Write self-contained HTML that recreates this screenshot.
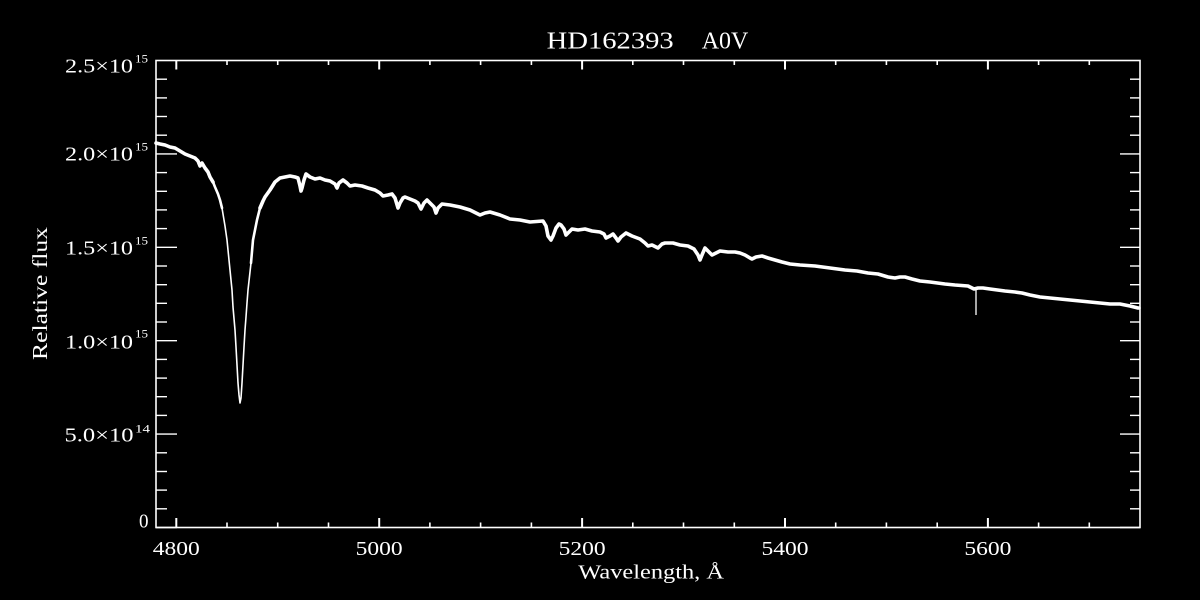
<!DOCTYPE html>
<html>
<head>
<meta charset="utf-8">
<style>
  html,body{margin:0;padding:0;background:#000;}
  body{width:1200px;height:600px;overflow:hidden;}
  svg{display:block;}
  text{fill:#fff;font-family:"Liberation Serif",serif;}
</style>
</head>
<body>
<svg width="1200" height="600" viewBox="0 0 1200 600" xmlns="http://www.w3.org/2000/svg">
  <rect x="0" y="0" width="1200" height="600" fill="#000"/>

  <!-- Title -->
  <text x="546.7" y="48.3" font-size="24" textLength="127" lengthAdjust="spacingAndGlyphs">HD162393</text>
  <text x="701.7" y="48.3" font-size="24" textLength="46.6" lengthAdjust="spacingAndGlyphs">A0V</text>

  <!-- Plot frame -->
  <rect x="156" y="60.5" width="984" height="467" fill="none" stroke="#fff" stroke-width="1.6"/>

  <!-- Y ticks (left & right) -->
  <g stroke="#fff" stroke-width="1.4">
    <line x1="156" y1="527.5" x2="177" y2="527.5"/><line x1="1140" y1="527.5" x2="1120" y2="527.5"/>
    <line x1="156" y1="434.1" x2="177" y2="434.1"/><line x1="1140" y1="434.1" x2="1120" y2="434.1"/>
    <line x1="156" y1="340.7" x2="177" y2="340.7"/><line x1="1140" y1="340.7" x2="1120" y2="340.7"/>
    <line x1="156" y1="247.3" x2="177" y2="247.3"/><line x1="1140" y1="247.3" x2="1120" y2="247.3"/>
    <line x1="156" y1="153.9" x2="177" y2="153.9"/><line x1="1140" y1="153.9" x2="1120" y2="153.9"/>
    <line x1="156" y1="508.8" x2="167" y2="508.8"/><line x1="1140" y1="508.8" x2="1130" y2="508.8"/>
    <line x1="156" y1="490.1" x2="167" y2="490.1"/><line x1="1140" y1="490.1" x2="1130" y2="490.1"/>
    <line x1="156" y1="471.5" x2="167" y2="471.5"/><line x1="1140" y1="471.5" x2="1130" y2="471.5"/>
    <line x1="156" y1="452.8" x2="167" y2="452.8"/><line x1="1140" y1="452.8" x2="1130" y2="452.8"/>
    <line x1="156" y1="415.4" x2="167" y2="415.4"/><line x1="1140" y1="415.4" x2="1130" y2="415.4"/>
    <line x1="156" y1="396.7" x2="167" y2="396.7"/><line x1="1140" y1="396.7" x2="1130" y2="396.7"/>
    <line x1="156" y1="378.1" x2="167" y2="378.1"/><line x1="1140" y1="378.1" x2="1130" y2="378.1"/>
    <line x1="156" y1="359.4" x2="167" y2="359.4"/><line x1="1140" y1="359.4" x2="1130" y2="359.4"/>
    <line x1="156" y1="322.0" x2="167" y2="322.0"/><line x1="1140" y1="322.0" x2="1130" y2="322.0"/>
    <line x1="156" y1="303.3" x2="167" y2="303.3"/><line x1="1140" y1="303.3" x2="1130" y2="303.3"/>
    <line x1="156" y1="284.7" x2="167" y2="284.7"/><line x1="1140" y1="284.7" x2="1130" y2="284.7"/>
    <line x1="156" y1="266.0" x2="167" y2="266.0"/><line x1="1140" y1="266.0" x2="1130" y2="266.0"/>
    <line x1="156" y1="228.6" x2="167" y2="228.6"/><line x1="1140" y1="228.6" x2="1130" y2="228.6"/>
    <line x1="156" y1="209.9" x2="167" y2="209.9"/><line x1="1140" y1="209.9" x2="1130" y2="209.9"/>
    <line x1="156" y1="191.3" x2="167" y2="191.3"/><line x1="1140" y1="191.3" x2="1130" y2="191.3"/>
    <line x1="156" y1="172.6" x2="167" y2="172.6"/><line x1="1140" y1="172.6" x2="1130" y2="172.6"/>
    <line x1="156" y1="135.2" x2="167" y2="135.2"/><line x1="1140" y1="135.2" x2="1130" y2="135.2"/>
    <line x1="156" y1="116.5" x2="167" y2="116.5"/><line x1="1140" y1="116.5" x2="1130" y2="116.5"/>
    <line x1="156" y1="97.9" x2="167" y2="97.9"/><line x1="1140" y1="97.9" x2="1130" y2="97.9"/>
    <line x1="156" y1="79.2" x2="167" y2="79.2"/><line x1="1140" y1="79.2" x2="1130" y2="79.2"/>
  </g>

  <!-- X ticks (bottom & top) -->
  <g stroke="#fff" stroke-width="2">
    <line x1="176.3" y1="527.5" x2="176.3" y2="518"/><line x1="176.3" y1="60.5" x2="176.3" y2="69.5"/>
    <line x1="379.2" y1="527.5" x2="379.2" y2="518"/><line x1="379.2" y1="60.5" x2="379.2" y2="69.5"/>
    <line x1="582.1" y1="527.5" x2="582.1" y2="518"/><line x1="582.1" y1="60.5" x2="582.1" y2="69.5"/>
    <line x1="785.0" y1="527.5" x2="785.0" y2="518"/><line x1="785.0" y1="60.5" x2="785.0" y2="69.5"/>
    <line x1="987.9" y1="527.5" x2="987.9" y2="518"/><line x1="987.9" y1="60.5" x2="987.9" y2="69.5"/>
  </g>
  <g stroke="#fff" stroke-width="1.6">
    <line x1="227.0" y1="527.5" x2="227.0" y2="522.5"/><line x1="227.0" y1="60.5" x2="227.0" y2="65"/>
    <line x1="277.7" y1="527.5" x2="277.7" y2="522.5"/><line x1="277.7" y1="60.5" x2="277.7" y2="65"/>
    <line x1="328.5" y1="527.5" x2="328.5" y2="522.5"/><line x1="328.5" y1="60.5" x2="328.5" y2="65"/>
    <line x1="429.9" y1="527.5" x2="429.9" y2="522.5"/><line x1="429.9" y1="60.5" x2="429.9" y2="65"/>
    <line x1="480.6" y1="527.5" x2="480.6" y2="522.5"/><line x1="480.6" y1="60.5" x2="480.6" y2="65"/>
    <line x1="531.4" y1="527.5" x2="531.4" y2="522.5"/><line x1="531.4" y1="60.5" x2="531.4" y2="65"/>
    <line x1="632.8" y1="527.5" x2="632.8" y2="522.5"/><line x1="632.8" y1="60.5" x2="632.8" y2="65"/>
    <line x1="683.5" y1="527.5" x2="683.5" y2="522.5"/><line x1="683.5" y1="60.5" x2="683.5" y2="65"/>
    <line x1="734.3" y1="527.5" x2="734.3" y2="522.5"/><line x1="734.3" y1="60.5" x2="734.3" y2="65"/>
    <line x1="835.7" y1="527.5" x2="835.7" y2="522.5"/><line x1="835.7" y1="60.5" x2="835.7" y2="65"/>
    <line x1="886.4" y1="527.5" x2="886.4" y2="522.5"/><line x1="886.4" y1="60.5" x2="886.4" y2="65"/>
    <line x1="937.2" y1="527.5" x2="937.2" y2="522.5"/><line x1="937.2" y1="60.5" x2="937.2" y2="65"/>
    <line x1="1038.6" y1="527.5" x2="1038.6" y2="522.5"/><line x1="1038.6" y1="60.5" x2="1038.6" y2="65"/>
    <line x1="1089.3" y1="527.5" x2="1089.3" y2="522.5"/><line x1="1089.3" y1="60.5" x2="1089.3" y2="65"/>
  </g>

  <!-- Y tick labels -->
  <text x="65" y="72.7" font-size="20" textLength="68" lengthAdjust="spacingAndGlyphs">2.5×10</text>
  <text x="135" y="62.7" font-size="11.5" textLength="13" lengthAdjust="spacingAndGlyphs">15</text>

  <text x="65" y="160.7" font-size="20" textLength="68" lengthAdjust="spacingAndGlyphs">2.0×10</text>
  <text x="135" y="150.7" font-size="11.5" textLength="13" lengthAdjust="spacingAndGlyphs">15</text>

  <text x="65" y="254.3" font-size="20" textLength="68" lengthAdjust="spacingAndGlyphs">1.5×10</text>
  <text x="135" y="244.7" font-size="11.5" textLength="13" lengthAdjust="spacingAndGlyphs">15</text>

  <text x="65" y="348.3" font-size="20" textLength="68" lengthAdjust="spacingAndGlyphs">1.0×10</text>
  <text x="135" y="337.5" font-size="11.5" textLength="13" lengthAdjust="spacingAndGlyphs">15</text>

  <text x="64.5" y="441.7" font-size="20" textLength="69" lengthAdjust="spacingAndGlyphs">5.0×10</text>
  <text x="135" y="432.3" font-size="11.5" textLength="15" lengthAdjust="spacingAndGlyphs">14</text>

  <text x="139" y="527.7" font-size="20" textLength="9.5" lengthAdjust="spacingAndGlyphs">0</text>

  <!-- X tick labels -->
  <text x="176.3" y="555" font-size="20" text-anchor="middle" textLength="47" lengthAdjust="spacingAndGlyphs">4800</text>
  <text x="379.2" y="555" font-size="20" text-anchor="middle" textLength="47" lengthAdjust="spacingAndGlyphs">5000</text>
  <text x="582.1" y="555" font-size="20" text-anchor="middle" textLength="47" lengthAdjust="spacingAndGlyphs">5200</text>
  <text x="785.0" y="555" font-size="20" text-anchor="middle" textLength="47" lengthAdjust="spacingAndGlyphs">5400</text>
  <text x="987.9" y="555" font-size="20" text-anchor="middle" textLength="47" lengthAdjust="spacingAndGlyphs">5600</text>

  <!-- Axis titles -->
  <text x="578.3" y="578.3" font-size="20" textLength="145.7" lengthAdjust="spacingAndGlyphs">Wavelength, Å</text>
  <text transform="translate(47,360) rotate(-90)" x="0" y="0" font-size="21" textLength="133" lengthAdjust="spacingAndGlyphs">Relative flux</text>

  <!-- Spectrum -->
  <g fill="none" stroke="#fff" stroke-linejoin="round" stroke-linecap="round">
    <polyline stroke-width="3.6" points="156,143 160,144 165,145 170,147 175,148 180,151 185,154 190,156 195,158 198,161 200,166 202,163 205,168 208,172 210,177 213,182"/>
    <polyline stroke-width="2.6" points="210,177 213,182 215,187 218,194 220,200 222,208"/>
    <polyline stroke-width="1.6" points="218,194 220,200 222,208 225,226 227,240 230,270 232,290 233,307 235,330 236,347 237,365 238,383 239,395 240,403 241,398 242,383 243,365 244,347 245,330 246,317 247,303 248,290 250,272 251,263 253,240 255,230"/>
    <polyline stroke-width="2.6" points="251,263 253,240 255,230 257,220 260,208 263,201"/>
    <polyline stroke-width="3.6" points="260,208 263,201 265,197 270,190 275,182 280,178 285,177 290,176 295,177 298,178 300,186 301,191 302,188 304,180 306,174 310,177 315,179 320,178 325,180 330,181 335,184 337,188 339,183 343,180 347,183 350,186 355,185 362,186 368,188 375,190 380,193 383,196 388,195 392,194 395,198 398,208 400,203 403,198 405,197 410,199 415,201 418,203 421,209 424,203 427,200 430,203 434,207 436,213 438,208 442,204 450,205 460,207 470,210 480,215 485,213 490,212 500,215 510,219 520,220 530,222 543,221 546,226 548,236 551,240 553,236 556,228 559,224 561,225 564,229 566,235 569,232 572,229 578,230 585,229 592,231 600,232 604,234 606,238 610,236 613,234 616,238 618,241 621,237 626,233 632,236 640,239 645,243 648,246 652,245 658,248 662,244 665,243 673,243 680,245 688,246 694,249 698,255 700,260 702,255 705,248 708,251 712,255 716,253 720,251 728,252 735,252 740,253 745,255 750,258 752,259 756,257 762,256 768,258 775,260 782,262 790,264 800,265 815,266 830,268 845,270 857,271 868,273 878,274 888,277 895,278 900,277 905,277 912,279 920,281 930,282 945,284 955,285 968,286 974,289 978,288 983,288 990,289 1005,291 1015,292 1022,293 1030,295 1040,297 1050,298 1060,299 1070,300 1080,301 1090,302 1100,303 1110,304 1120,304 1130,306 1138,308 1139,308"/>
    <line x1="976" y1="288" x2="976" y2="315" stroke-width="1.3" stroke-linecap="butt"/>
  </g>
</svg>
</body>
</html>
